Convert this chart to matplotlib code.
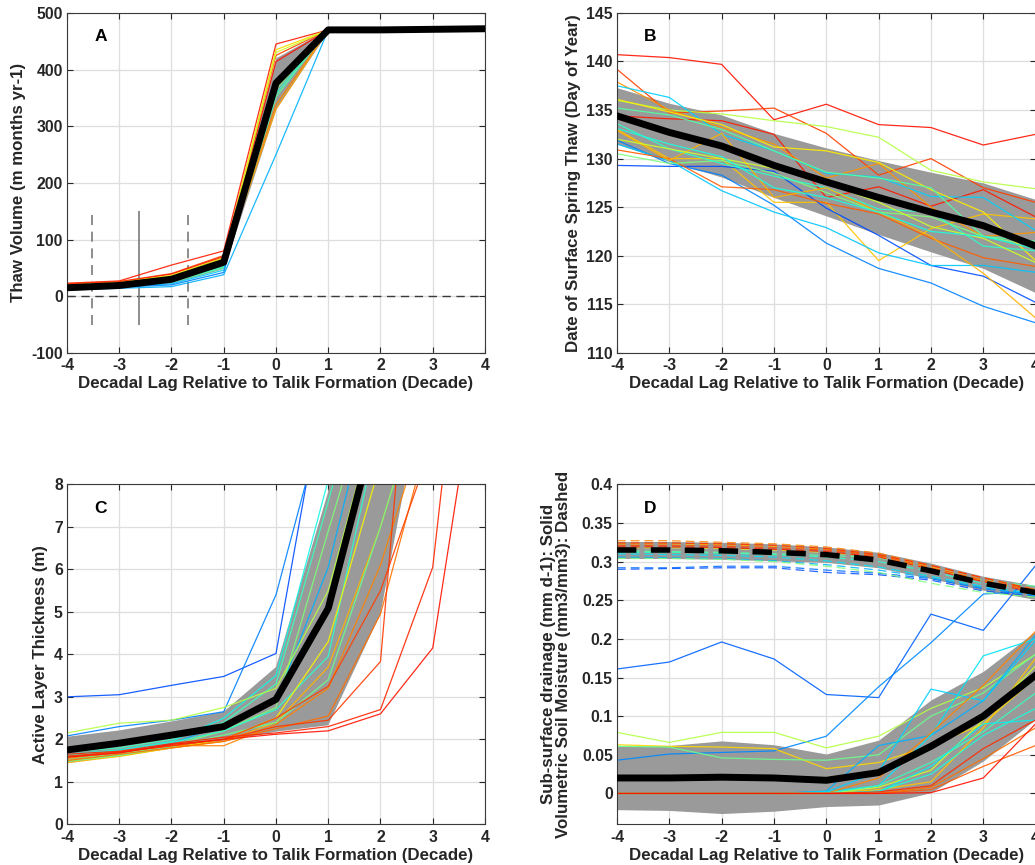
import numpy as np
import matplotlib.pyplot as plt

plt.rcParams['font.family'] = ['Liberation Sans', 'DejaVu Sans']
plt.rcParams['font.weight'] = 'bold'
plt.rcParams['axes.unicode_minus'] = False

lag = [-4, -3, -2, -1, 0, 1, 2, 3, 4]
xlabel = 'Decadal Lag Relative to Talik Formation (Decade)'

# A: thaw volume
thaw_mean = [15, 19, 30, 60, 376, 470, 470, 471, 472]
thaw_std = [4, 4, 7, 11, 45, 2, 2, 2, 2]
thaw_runs = [
    [23, 27, 55, 80, 445, 470, 470, 471, 472],
    [22, 26, 40, 72, 425, 470, 470, 471, 472],
    [21, 25, 39, 70, 414, 470, 470, 471, 472],
    [20, 24, 37, 68, 435, 470, 470, 471, 472],
    [19, 23, 36, 66, 430, 470, 470, 471, 472],
    [18, 22, 34, 63, 338, 470, 470, 471, 472],
    [17, 21, 32, 60, 330, 470, 470, 471, 472],
    [16, 20, 30, 55, 365, 470, 470, 471, 472],
    [15, 19, 27, 52, 358, 470, 470, 471, 472],
    [14, 18, 25, 50, 352, 470, 470, 471, 472],
    [13, 17, 22, 46, 370, 470, 470, 471, 472],
    [12, 16, 20, 42, 380, 470, 470, 471, 472],
    [11, 14, 17, 38, 250, 470, 470, 471, 472],
]
thaw_cpos = [0.88, 0.84, 0.89, 0.68, 0.6, 0.77, 0.74, 0.5, 0.4, 0.45, 0.33, 0.25, 0.3]
talik_lines = [-3.53, -2.62, -1.69]   # dashed, solid, dashed
talik_span = [-50, 150]

# B: date of spring thaw
doy_mean = [134.4, 132.7, 131.3, 129.3, 127.6, 126.0, 124.5, 123.1, 121.0]
doy_std = [2.9, 3.0, 3.2, 3.3, 3.5, 3.8, 4.1, 4.4, 4.8]
doy_runs = [
    [140.7, 140.4, 139.7, 134.0, 135.6, 133.5, 133.2, 131.4, 132.5],
    [139.2, 134.7, 134.9, 135.2, 132.6, 128.3, 130.0, 127.0, 125.5],
    [136.0, 135.0, 134.6, 133.9, 133.3, 132.2, 128.8, 127.6, 126.9],
    [134.4, 134.1, 133.9, 132.5, 126.0, 127.1, 125.1, 126.8, 124.0],
    [137.9, 135.0, 133.2, 131.5, 128.0, 129.5, 125.0, 122.0, 122.4],
    [133.0, 130.0, 130.0, 125.5, 125.5, 119.5, 122.8, 124.3, 123.8],
    [137.5, 136.3, 132.5, 130.8, 128.5, 128.1, 126.1, 126.0, 122.6],
    [129.3, 129.2, 129.2, 128.7, 124.9, 122.1, 119.0, 117.9, 115.2],
    [131.9, 129.5, 128.3, 125.2, 121.3, 118.7, 117.2, 114.8, 113.1],
    [131.5, 129.8, 126.7, 124.5, 122.9, 120.3, 119.0, 119.0, 118.3],
    [130.9, 130.0, 127.1, 126.8, 125.4, 124.3, 121.8, 119.8, 118.9],
    [130.5, 129.5, 129.8, 128.5, 126.5, 124.5, 124.0, 122.0, 121.0],
    [136.1, 134.8, 133.5, 131.2, 130.8, 129.6, 126.8, 124.5, 119.5],
    [135.2, 134.5, 133.0, 130.8, 128.6, 128.0, 127.0, 122.0, 121.5],
    [133.6, 131.0, 129.5, 128.2, 127.0, 124.8, 124.5, 121.0, 120.5],
    [132.9, 129.8, 132.6, 126.0, 127.0, 124.5, 122.0, 118.2, 113.6],
    [132.0, 131.0, 130.0, 129.0, 127.5, 125.5, 123.0, 121.8, 119.3],
    [133.1, 131.5, 130.2, 127.0, 126.0, 124.5, 122.5, 122.0, 120.7],
]
doy_cpos = [0.89, 0.84, 0.57, 0.88, 0.75, 0.7, 0.33, 0.2, 0.25, 0.32,
            0.81, 0.5, 0.66, 0.45, 0.4, 0.72, 0.6, 0.38]

# C: active layer thickness
alt_mean = [1.75, 1.91, 2.1, 2.3, 2.94, 5.08, 9.8, 16.0, 20.0]
alt_std = [0.31, 0.3, 0.32, 0.35, 0.76, 2.75, 4.85, 4.5, 5.0]
alt_runs = [
    [3.0, 3.05, 3.27, 3.48, 4.02, 10.9, 14, 16, 18],
    [2.08, 2.3, 2.45, 2.65, 5.4, 10.0, 13, 15, 17],
    [1.65, 1.75, 1.95, 2.5, 3.5, 8.1, 12, 15, 17],
    [1.7, 1.8, 2.0, 2.4, 3.3, 7.6, 12, 15, 17],
    [1.6, 1.7, 1.9, 2.35, 2.9, 6.05, 11, 14, 16],
    [1.55, 1.65, 1.85, 2.2, 2.75, 6.9, 11, 14, 16],
    [1.62, 1.72, 1.92, 2.2, 2.7, 3.95, 9.5, 13, 16],
    [2.15, 2.38, 2.45, 2.75, 3.2, 5.5, 10, 13, 16],
    [1.5, 1.6, 1.8, 2.0, 2.5, 4.3, 8.5, 12, 15],
    [1.45, 1.6, 1.8, 1.95, 2.4, 3.7, 7.0, 11, 14],
    [1.48, 1.62, 1.82, 2.1, 2.4, 3.4, 7.0, 11, 14],
    [1.55, 1.7, 1.85, 1.85, 2.35, 3.2, 6.1, 10, 13],
    [1.5, 1.65, 1.8, 1.95, 2.25, 2.55, 4.95, 9.5, 13],
    [1.6, 1.7, 1.85, 2.0, 2.5, 3.25, 5.5, 9, 12],
    [1.6, 1.7, 1.85, 2.0, 2.3, 2.45, 3.83, 18, 20],
    [1.65, 1.72, 1.9, 2.05, 2.15, 2.3, 2.7, 6.05, 17],
    [1.58, 1.68, 1.88, 2.0, 2.12, 2.2, 2.6, 4.15, 12],
]
alt_cpos = [0.2, 0.25, 0.37, 0.42, 0.3, 0.5, 0.4, 0.57, 0.65, 0.72,
            0.48, 0.77, 0.79, 0.84, 0.85, 0.87, 0.89]

# D: sub-surface drainage (solid) and soil moisture (dashed)
drain_mean = [0.020, 0.020, 0.021, 0.020, 0.017, 0.027, 0.061, 0.100, 0.153]
drain_std = [0.041, 0.042, 0.047, 0.043, 0.034, 0.042, 0.060, 0.058, 0.057]
drain_runs = [
    [0.161, 0.170, 0.196, 0.174, 0.128, 0.124, 0.232, 0.211, 0.295],
    [0.043, 0.051, 0.053, 0.055, 0.074, 0.138, 0.195, 0.258, 0.262],
    [0.079, 0.066, 0.079, 0.079, 0.059, 0.074, 0.110, 0.137, 0.180],
    [0.063, 0.061, 0.060, 0.058, 0.032, 0.040, 0.062, 0.090, 0.150],
    [0.061, 0.060, 0.046, 0.044, 0.043, 0.050, 0.100, 0.130, 0.180],
    [0, 0, 0, 0, 0.003, 0.062, 0.075, 0.120, 0.205],
    [0, 0, 0, 0, 0.002, 0.028, 0.135, 0.120, 0.198],
    [0, 0, 0, 0, 0.002, 0.010, 0.075, 0.178, 0.200],
    [0, 0, 0, 0, 0, 0.020, 0.078, 0.140, 0.210],
    [0, 0, 0, 0, 0, 0.005, 0.015, 0.085, 0.175],
    [0, 0, 0, 0, 0, 0.008, 0.030, 0.095, 0.165],
    [0, 0, 0, 0, 0, 0.010, 0.040, 0.080, 0.130],
    [0, 0, 0, 0, 0, 0.003, 0.025, 0.075, 0.110],
    [0, 0, 0, 0, 0, 0.002, 0.035, 0.090, 0.095],
    [0, 0, 0, 0, 0, 0, 0.005, 0.035, 0.062],
    [0, 0, 0, 0, 0, 0, 0.008, 0.045, 0.085],
    [0, 0, 0, 0, 0, 0.002, 0.010, 0.058, 0.095],
    [0, 0, 0, 0, 0, 0, 0.001, 0.020, 0.090],
]
drain_cpos = [0.22, 0.26, 0.57, 0.68, 0.48, 0.3, 0.33, 0.35, 0.77, 0.7,
              0.6, 0.42, 0.38, 0.36, 0.81, 0.79, 0.86, 0.89]

vsm_mean = [0.315, 0.315, 0.314, 0.312, 0.309, 0.302, 0.288, 0.272, 0.260]
vsm_std = [0.011, 0.011, 0.011, 0.011, 0.010, 0.010, 0.010, 0.009, 0.009]
vsm_runs = [
    [0.290, 0.291, 0.292, 0.292, 0.286, 0.283, 0.276, 0.262, 0.255],
    [0.292, 0.292, 0.294, 0.294, 0.289, 0.285, 0.278, 0.265, 0.257],
    [0.306, 0.305, 0.304, 0.301, 0.296, 0.289, 0.279, 0.266, 0.256],
    [0.310, 0.309, 0.308, 0.306, 0.301, 0.293, 0.281, 0.268, 0.258],
    [0.312, 0.312, 0.311, 0.309, 0.306, 0.300, 0.287, 0.272, 0.262],
    [0.304, 0.304, 0.303, 0.300, 0.294, 0.286, 0.272, 0.260, 0.254],
    [0.314, 0.313, 0.312, 0.310, 0.308, 0.305, 0.290, 0.276, 0.268],
    [0.318, 0.318, 0.317, 0.315, 0.312, 0.306, 0.291, 0.275, 0.262],
    [0.323, 0.323, 0.322, 0.320, 0.316, 0.308, 0.293, 0.276, 0.262],
    [0.327, 0.327, 0.325, 0.323, 0.319, 0.311, 0.295, 0.279, 0.264],
    [0.321, 0.321, 0.320, 0.318, 0.315, 0.308, 0.292, 0.276, 0.262],
    [0.319, 0.319, 0.318, 0.316, 0.313, 0.306, 0.290, 0.274, 0.260],
    [0.324, 0.324, 0.323, 0.321, 0.317, 0.309, 0.295, 0.279, 0.263],
]
vsm_cpos = [0.2, 0.23, 0.3, 0.35, 0.4, 0.5, 0.45, 0.6, 0.7, 0.77, 0.83, 0.89, 0.86]

cmap = plt.get_cmap('jet')
BAND = '#9a9a9a'
INK = '#262626'


def ensemble(ax, mean, std, runs, cpos):
    m = np.array(mean)
    s = np.array(std)
    ax.fill_between(lag, m - s, m + s, color=BAND, lw=0, zorder=1)
    for r, c in zip(runs, cpos):
        ax.plot(lag, r, color=cmap(c), lw=0.9, alpha=0.9, zorder=2)
    ax.plot(lag, mean, color='k', lw=5, zorder=3)


def style(ax, ylim, yticks, ylabel, letter, yticklabels=None, ypad=4):
    ax.set_xlim(-4, 4)
    ax.set_ylim(*ylim)
    ax.set_xticks(lag)
    ax.set_yticks(yticks)
    if yticklabels is not None:
        ax.set_yticklabels(yticklabels)
    ax.grid(True, color='#dedede', lw=0.9)
    ax.set_axisbelow(True)
    ax.tick_params(direction='in', top=True, right=True, length=4, width=0.8,
                   colors=INK, labelsize=11.3, pad=3)
    ax.tick_params(axis='x', pad=4)
    for s in ax.spines.values():
        s.set_color('#3a3a3a')
        s.set_linewidth(0.8)
    ax.set_xlabel(xlabel, fontsize=12.2, fontweight='bold', color=INK, labelpad=2)
    ax.set_ylabel(ylabel, fontsize=12.2, fontweight='bold', color=INK, labelpad=ypad,
                  linespacing=1.0)
    ax.text(0.08, 0.93, letter, transform=ax.transAxes, fontsize=12.5,
            fontweight='bold', ha='center', va='center', color='k')


fig = plt.figure(figsize=(10.35, 8.65), dpi=100)
axA = fig.add_axes([0.0647, 0.592, 0.4039, 0.3931])
axB = fig.add_axes([0.5961, 0.592, 0.4045, 0.3931])
axC = fig.add_axes([0.0647, 0.047, 0.4039, 0.3931])
axD = fig.add_axes([0.5961, 0.047, 0.4045, 0.3931])

# A
ensemble(axA, thaw_mean, thaw_std, thaw_runs, thaw_cpos)
axA.axhline(0, color='#3a3a3a', lw=1, ls=(0, (6, 4)), zorder=1.5)
axA.vlines([talik_lines[0], talik_lines[2]], *talik_span, color='#7a7a7a', lw=1.2,
           linestyles=(0, (6, 4)), zorder=1.5)
axA.vlines(talik_lines[1], *talik_span, color='#7a7a7a', lw=1.2, zorder=1.5)
style(axA, (-100, 500), range(-100, 501, 100), 'Thaw Volume (m months yr-1)', 'A')

# B
ensemble(axB, doy_mean, doy_std, doy_runs, doy_cpos)
style(axB, (110, 145), range(110, 146, 5), 'Date of Surface Spring Thaw (Day of Year)', 'B')

# C
ensemble(axC, alt_mean, alt_std, alt_runs, alt_cpos)
style(axC, (0, 8), range(0, 9), 'Active Layer Thickness (m)', 'C')

# D
d_m = np.array(drain_mean)
d_s = np.array(drain_std)
v_m = np.array(vsm_mean)
v_s = np.array(vsm_std)
axD.fill_between(lag, d_m - d_s, d_m + d_s, color=BAND, lw=0, zorder=1)
axD.fill_between(lag, v_m - v_s, v_m + v_s, color=BAND, lw=0, zorder=1)
for r, c in zip(drain_runs, drain_cpos):
    axD.plot(lag, r, color=cmap(c), lw=0.9, alpha=0.9, zorder=2)
for r, c in zip(vsm_runs, vsm_cpos):
    axD.plot(lag, r, color=cmap(c), lw=0.9, alpha=0.85, ls=(0, (7, 4)), zorder=2)
axD.plot(lag, drain_mean, color='k', lw=5, zorder=3)
axD.plot(lag, vsm_mean, color='k', lw=4, ls=(0, (3.5, 2.6)), zorder=3)
style(axD, (-0.04, 0.4), np.arange(0, 0.401, 0.05),
      'Sub-surface drainage (mm d-1): Solid\nVolumetric Soil Moisture (mm3/mm3): Dashed', 'D',
      yticklabels=['0', '0.05', '0.1', '0.15', '0.2', '0.25', '0.3', '0.35', '0.4'], ypad=7.5)

fig.savefig('out.png', dpi=100)
